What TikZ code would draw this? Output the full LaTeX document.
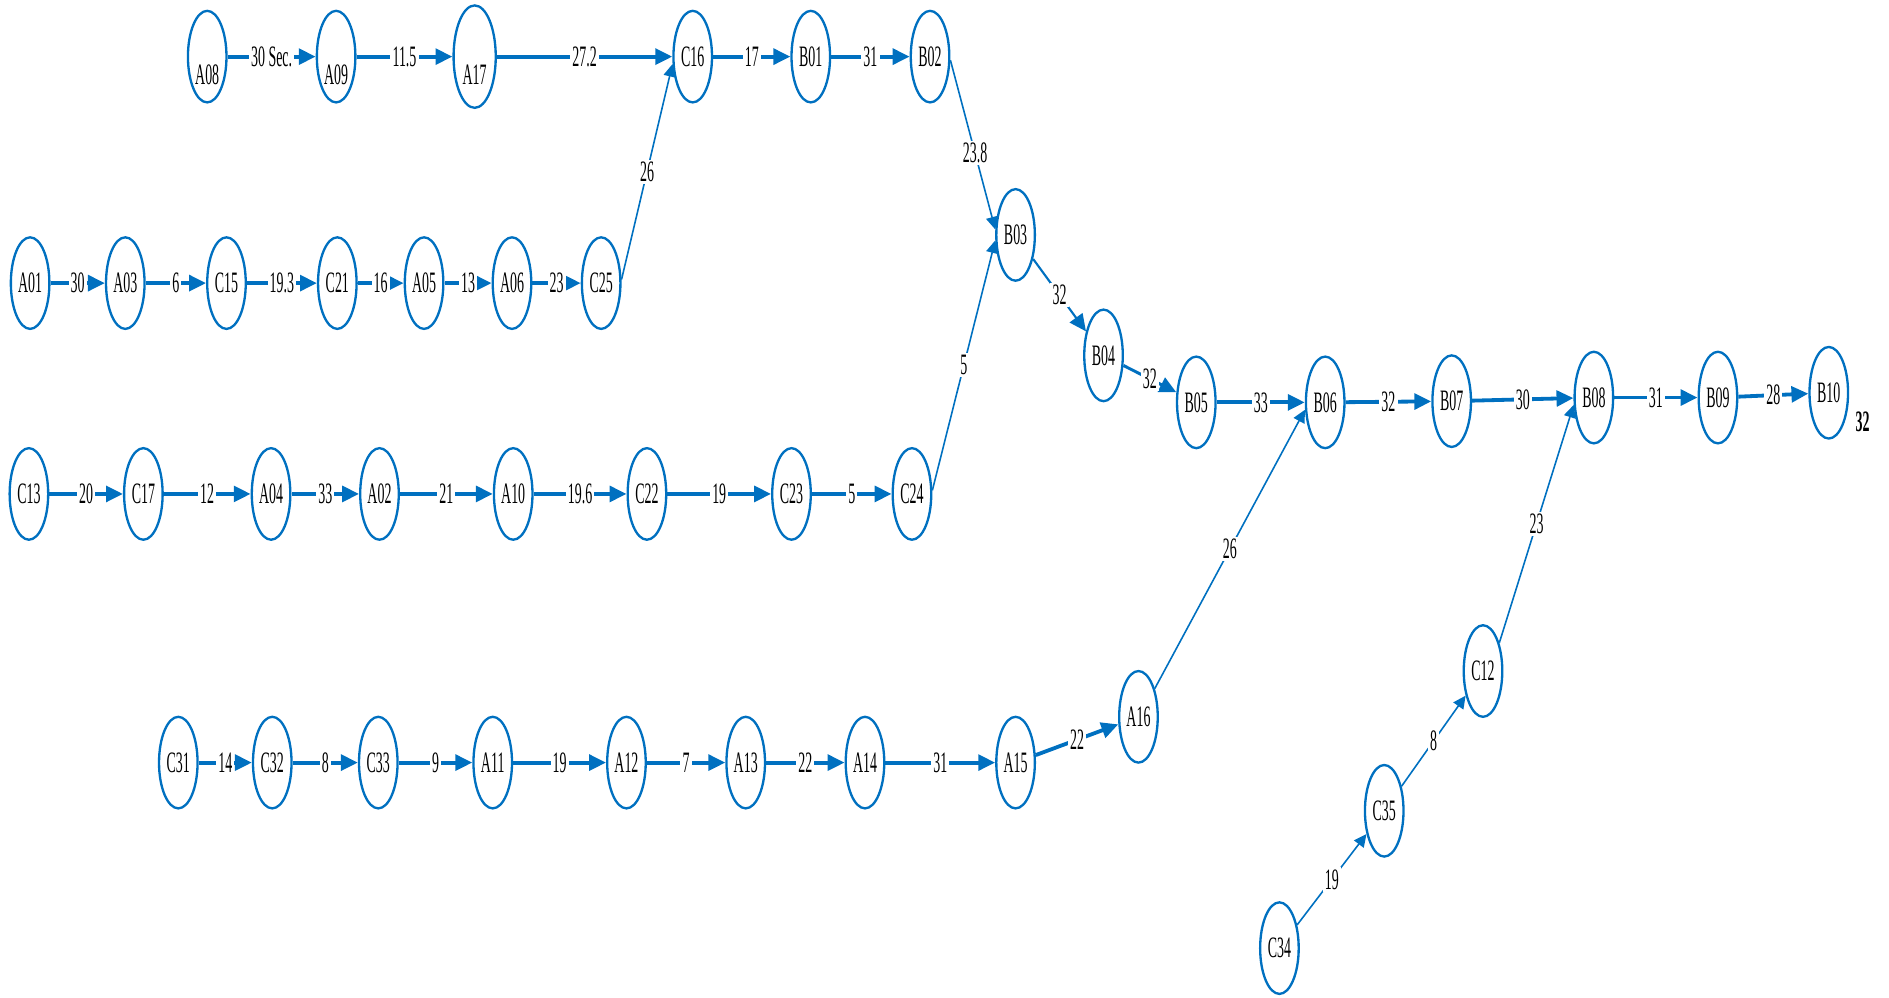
\documentclass[tikz,border=0pt]{standalone}
\usepackage{fontspec}
\setmainfont{Liberation Serif}[FakeStretch=0.47]
\usepackage{tikz}
\usetikzlibrary{arrows.meta,shapes.geometric}
\definecolor{arc}{HTML}{0070C0}
\newcommand{\nodefont}{\fontsize{14}{16}\selectfont}

\begin{document}
\begin{tikzpicture}[x=0.2mm, y=-0.2mm, >={Triangle[length=2.8mm, width=2.6mm]},
  n/.style={draw=arc, ellipse, line width=1.1pt, minimum width=6.4mm, minimum height=15.2mm, inner sep=0pt, font=\nodefont},
  low/.style={n, text height=26pt, text depth=0pt},
  e/.style={->, line width=1.8pt, draw=arc},
  t/.style={-{Triangle[length=2.1mm, width=2mm]}, line width=0.75pt, draw=arc},
  lab/.style={font=\nodefont, fill=white, inner sep=1pt}
]
\useasboundingbox (0,0) rectangle (1568,828);
% top line
\node[low] (A08) at (172,47) {A08};
\node[low] (A09) at (279,47) {A09};
\node[low, minimum width=7mm, minimum height=17mm] (A17) at (394,47) {A17};
\node[n] (C16) at (575,47) {C16};
\node[n] (B01) at (673,47) {B01};
\node[n] (B02) at (772,47) {B02};
% second line
\node[n] (A01) at (25,235) {A01};
\node[n] (A03) at (104,235) {A03};
\node[n] (C15) at (188,235) {C15};
\node[n] (C21) at (280,235) {C21};
\node[n] (A05) at (352,235) {A05};
\node[n] (A06) at (425,235) {A06};
\node[n] (C25) at (499,235) {C25};
% third line
\node[n] (C13) at (24,410) {C13};
\node[n] (C17) at (119,410) {C17};
\node[n] (A04) at (225,410) {A04};
\node[n] (A02) at (315,410) {A02};
\node[n] (A10) at (426,410) {A10};
\node[n] (C22) at (537,410) {C22};
\node[n] (C23) at (657,410) {C23};
\node[n] (C24) at (757,410) {C24};
% fourth line
\node[n] (C31) at (148,633) {C31};
\node[n] (C32) at (226,633) {C32};
\node[n] (C33) at (314,633) {C33};
\node[n] (A11) at (409,633) {A11};
\node[n] (A12) at (520,633) {A12};
\node[n] (A13) at (619,633) {A13};
\node[n] (A14) at (718,633) {A14};
\node[n] (A15) at (843,633) {A15};
\node[n] (A16) at (945,595) {A16};
\node[n] (C34) at (1062,787) {C34};
\node[n] (C35) at (1149,673) {C35};
\node[n] (C12) at (1231,557) {C12};
% main line
\node[n] (B03) at (843,195) {B03};
\node[n] (B04) at (916,295) {B04};
\node[n] (B05) at (993,334) {B05};
\node[n] (B06) at (1100,334) {B06};
\node[n] (B07) at (1205,333) {B07};
\node[n] (B08) at (1323,330) {B08};
\node[n] (B09) at (1426,330) {B09};
\node[n] (B10) at (1518,326) {B10};
\node[font=\nodefont\bfseries] (sum) at (1546,350) {32};

\draw[e] (A08) -- (A09) node[lab, midway] {30 Sec.};
\draw[e] (A09) -- (A17) node[lab, midway] {11.5};
\draw[e] (A17) -- (C16) node[lab, midway] {27.2};
\draw[e] (C16) -- (B01) node[lab, midway] {17};
\draw[e] (B01) -- (B02) node[lab, midway] {31};
\draw[e] (A01) -- (A03) node[lab, midway] {30};
\draw[e] (A03) -- (C15) node[lab, midway] {6};
\draw[e] (C15) -- (C21) node[lab, midway] {19.3};
\draw[e] (C21) -- (A05) node[lab, midway] {16};
\draw[e] (A05) -- (A06) node[lab, midway] {13};
\draw[e] (A06) -- (C25) node[lab, midway] {23};
\draw[t] (C25.10) -- (C16.200) node[lab, midway] {26};
\draw[t] (B02.350) -- (B03.165) node[lab, pos=0.55] {23.8};
\draw[e] (C13) -- (C17) node[lab, midway] {20};
\draw[e] (C17) -- (A04) node[lab, midway] {12};
\draw[e] (A04) -- (A02) node[lab, midway] {33};
\draw[e] (A02) -- (A10) node[lab, midway] {21};
\draw[e] (A10) -- (C22) node[lab, midway] {19.6};
\draw[e] (C22) -- (C23) node[lab, midway] {19};
\draw[e] (C23) -- (C24) node[lab, midway] {5};
\draw[t] (C24.10) -- (B03.195) node[lab, midway] {5};
\draw[e, line width=1pt] (B03) -- (B04) node[lab, midway] {32};
\draw[e, line width=1.4pt] (B04) -- (B05) node[lab, midway] {32};
\draw[e] (B05) -- (B06) node[lab, midway] {33};
\draw[e] (B06) -- (B07) node[lab, midway] {32};
\draw[e] (B07) -- (B08) node[lab, midway] {30};
\draw[e] (B08) -- (B09) node[lab, midway] {31};
\draw[e] (B09) -- (B10) node[lab, midway] {28};
\draw[e] (C31) -- (C32) node[lab, midway] {14};
\draw[e] (C32) -- (C33) node[lab, midway] {8};
\draw[e] (C33) -- (A11) node[lab, midway] {9};
\draw[e] (A11) -- (A12) node[lab, midway] {19};
\draw[e] (A12) -- (A13) node[lab, midway] {7};
\draw[e] (A13) -- (A14) node[lab, midway] {22};
\draw[e] (A14) -- (A15) node[lab, midway] {31};
\draw[e] (A15) -- (A16) node[lab, midway] {22};
\draw[t] (A16.60) -- (B06.200) node[lab, midway] {26};
\draw[t] (C34) -- (C35) node[lab, midway] {19};
\draw[t] (C35) -- (C12) node[lab, midway] {8};
\draw[t] (C12.60) -- (B08.200) node[lab, midway] {23};
\end{tikzpicture}
\end{document}
